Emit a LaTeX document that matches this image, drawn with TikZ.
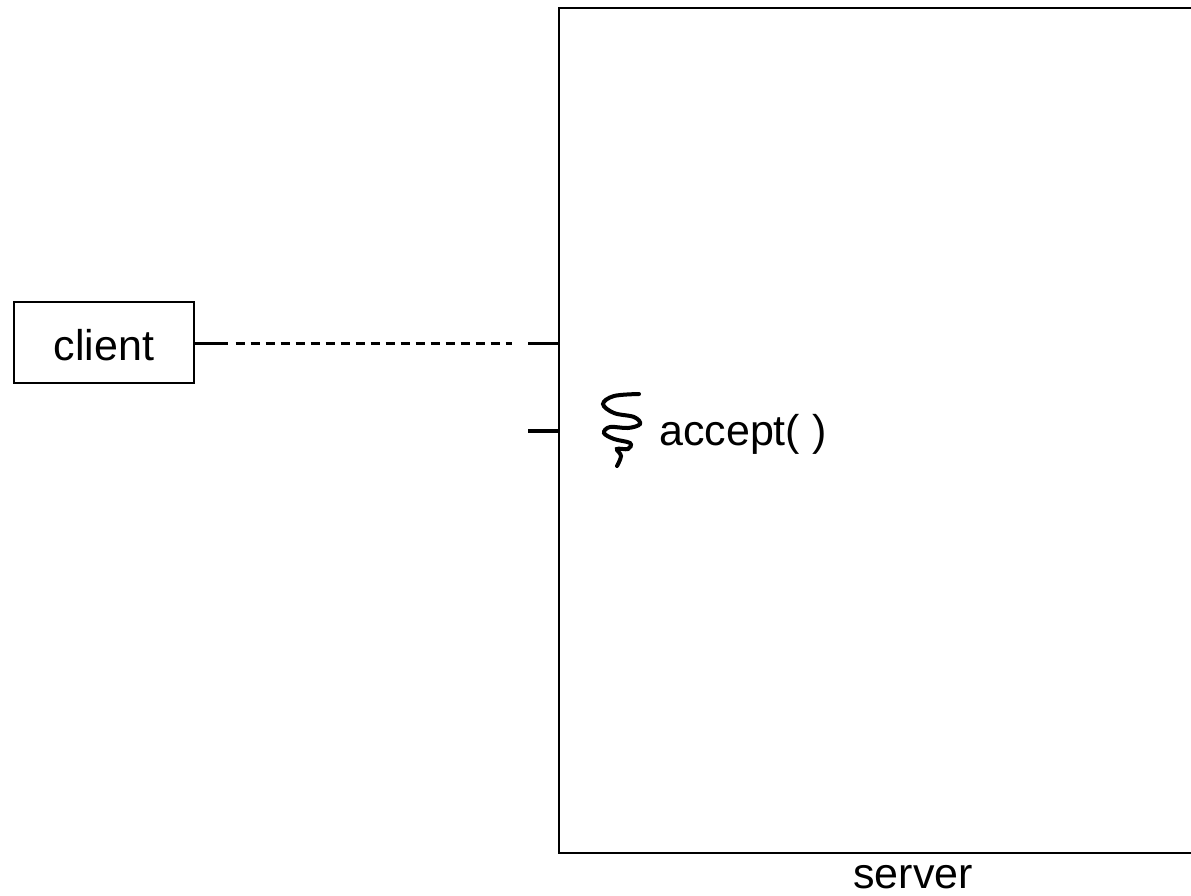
\documentclass[tikz,border=0pt]{standalone}
\usepackage{fontspec}
\setmainfont{Liberation Sans}
\begin{document}
\begin{tikzpicture}[x=1pt,y=-1pt,
  boxstyle/.style={draw=black,line width=2pt,inner sep=0pt},
  lbl/.style={font=\fontsize{43}{48}\selectfont,inner sep=0pt},
  stub/.style={line width=3.5pt},
  dashline/.style={line width=3.5pt,dash pattern=on 9pt off 6pt}]
\useasboundingbox (0,0) rectangle (1191,895);
\clip (0,0) rectangle (1191,895);
\node[boxstyle,minimum width=180pt,minimum height=81pt] (client) at (103.5,342.5) {};
\node[lbl,anchor=base] (clientlbl) at (104,360) {client};
\node[boxstyle,minimum width=641pt,minimum height=845pt] (server) at (879.5,430.5) {};
\node[lbl,anchor=base] (serverlbl) at (913,888) {server};
\coordinate (s1) at (528,343.5);
\coordinate (s2) at (528,431);
\draw[stub] (s1) -- (s1 -| server.west);
\draw[stub] (s2) -- (s2 -| server.west);
\draw[stub] (client.east |- 0,343.5) -- ++(33,0) coordinate (d0);
\coordinate (d1) at (512,343.5);
\draw[dashline] ([xshift=8pt]d0) -- (d1);
\draw[line width=4pt,line cap=round] plot[smooth,tension=0.6] coordinates {
 (639,394) (614,396) (603,404) (614,413) (634,417) (640,424) (628,428)
 (610,427) (604,433) (614,439) (630,443) (628,449) (617,449) (621,456) (617,466)};
\node[lbl,anchor=base west] (acceptlbl) at (659,445) {accept( )};
\end{tikzpicture}
\end{document}
